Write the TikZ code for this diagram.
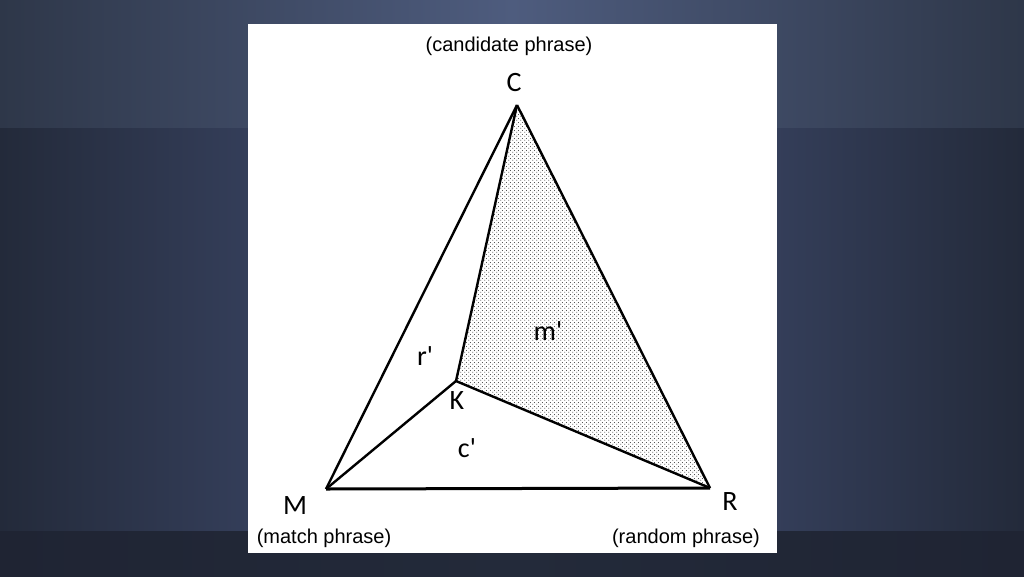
\documentclass[tikz,border=0pt]{standalone}
\usepackage{fontspec}
\setmainfont{Liberation Sans}
\newfontfamily\vertexfont{Carlito}
\usetikzlibrary{patterns}
\definecolor{bgedge}{HTML}{232A3A}
\definecolor{bgmid}{HTML}{46537A}
\definecolor{bgtopedge}{HTML}{2E3749}
\definecolor{bgtopmid}{HTML}{4E5C7E}
\definecolor{bgfoot}{HTML}{1F2433}
\pgfdeclarepatternformonly{stipple}{\pgfpointorigin}{\pgfpoint{4pt}{4pt}}{\pgfpoint{4pt}{4pt}}{%
  \pgfpathcircle{\pgfpoint{1pt}{1pt}}{0.6pt}
  \pgfpathcircle{\pgfpoint{3pt}{3pt}}{0.6pt}
  \pgfusepath{fill}}

\begin{document}
\begin{tikzpicture}[x=1pt,y=-1pt,line join=round]
  \tikzstyle{vertex}=[font=\vertexfont\fontsize{28}{28}\selectfont,inner sep=0pt]
  \tikzstyle{caption}=[font=\fontsize{20}{20}\selectfont,inner sep=0pt]
  \tikzstyle{side}=[line width=2.4pt]

  % slide background
  \shade[left color=bgedge,right color=bgedge,middle color=bgmid] (0,0) rectangle (1024,576);
  \shade[left color=bgtopedge,right color=bgtopedge,middle color=bgtopmid] (0,0) rectangle (1024,127);
  \shade[left color=bgfoot,right color=bgfoot,middle color=bgedge] (0,531) rectangle (1024,576);
  \fill[white] (248,24) rectangle (777,553);
  \useasboundingbox (0,0) rectangle (1024,576);

  \coordinate (C) at (517,105);
  \coordinate (M) at (326,489);
  \coordinate (R) at (710,488);
  \coordinate (K) at (456,381);

  \fill[pattern=stipple,pattern color=black!90] (C) -- (K) -- (R) -- cycle;

  \draw[side] (C) -- (M);
  \draw[side] (C) -- (R);
  \draw[line width=3pt] (M) -- (R);
  \draw[side] (K) -- (C);
  \draw[side] (K) -- (M);
  \draw[side] (K) -- (R);

  \node[vertex] (Clabel) at (514,83) {C};
  \node[vertex] (Mlabel) at (295,506) {M};
  \node[vertex] (Rlabel) at (730,502) {R};
  \node[vertex] (Klabel) at (457,401) {K};
  \node[vertex] (rprime) at (425,356) {r'};
  \node[vertex] (mprime) at (548,331) {m'};
  \node[vertex] (cprime) at (467,448) {c'};

  \node[caption] (cand)  at (509,46)  {(candidate phrase)};
  \node[caption] (match) at (324,538) {(match phrase)};
  \node[caption] (rand)  at (686,538) {(random phrase)};
\end{tikzpicture}
\end{document}
